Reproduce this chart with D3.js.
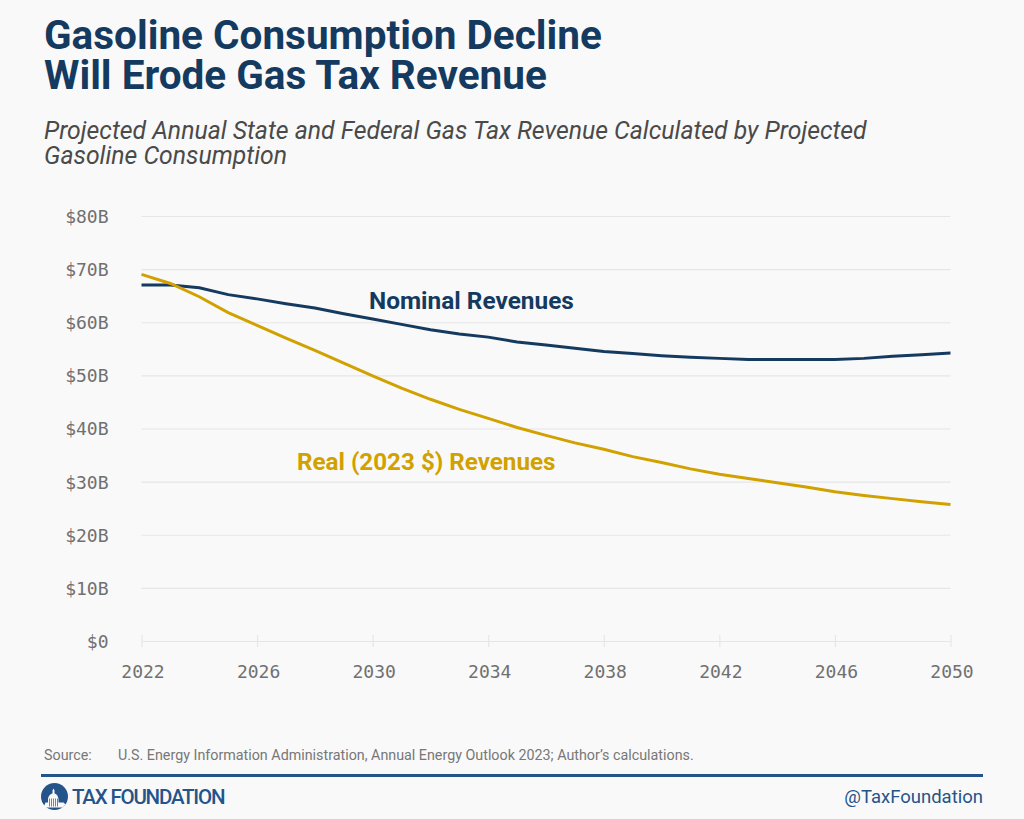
<!DOCTYPE html>
<html>
<head>
<meta charset="utf-8">
<script src="https://cdn.jsdelivr.net/npm/d3@7"></script>
<style>
html, body { margin: 0; padding: 0; background: #f9f9f9; }
svg { display: block; }
</style>
</head>
<body>
<div id="chart"></div>
<script>
const years = d3.range(2022, 2051)
const nominal = [67, 67, 66.5, 65.2, 64.4, 63.5, 62.7, 61.6, 60.6, 59.6, 58.6, 57.8, 57.2, 56.3, 55.7, 55.1, 54.5, 54.1, 53.7, 53.4, 53.2, 53, 53, 53, 53, 53.2, 53.6, 53.9, 54.2]
const real = [69, 67.3, 64.8, 61.8, 59.4, 57, 54.7, 52.3, 49.9, 47.6, 45.5, 43.6, 41.9, 40.2, 38.7, 37.3, 36.1, 34.7, 33.6, 32.4, 31.4, 30.6, 29.8, 29, 28.1, 27.4, 26.8, 26.2, 25.7]
const yTicks = [0, 10, 20, 30, 40, 50, 60, 70, 80]
const xTicks = [2022, 2026, 2030, 2034, 2038, 2042, 2046, 2050]
const titleLines = ['Gasoline Consumption Decline', 'Will Erode Gas Tax Revenue']
const subtitleLines = ['Projected Annual State and Federal Gas Tax Revenue Calculated by Projected', 'Gasoline Consumption']

const width = 1024
const height = 819
const navy = '#153a5f'
const gold = '#d1a100'
const gridColor = '#e6e6e6'
const tickColor = '#707070'
const monoFont = '"DejaVu Sans Mono", monospace'

const svg = d3.select('#chart').append('svg')
	.attr('width', width)
	.attr('height', height)
	.style('background', '#f9f9f9')
	.style('font-family', 'Roboto, sans-serif')

// scales
const x = d3.scaleLinear().domain([2022, 2050]).range([141.5, 950.5])
const y = d3.scaleLinear().domain([0, 80]).range([641, 216])

// title block
svg.append('g').selectAll('text').data(titleLines).enter().append('text')
	.attr('x', 44)
	.attr('y', (d, i) => 49 + i * 40)
	.attr('font-size', 40.5)
	.attr('font-weight', 700)
	.attr('fill', navy)
	.text(d => d)

svg.append('g').selectAll('text').data(subtitleLines).enter().append('text')
	.attr('x', 44)
	.attr('y', (d, i) => 139 + i * 25)
	.attr('font-size', 24.8)
	.attr('font-style', 'italic')
	.attr('fill', '#4a4a4a')
	.text(d => d)

// y axis with gridlines
const yAxis = svg.append('g')
	.attr('transform', 'translate(141.5,0)')
	.call(d3.axisLeft(y).tickValues(yTicks).tickSize(0).tickPadding(33)
		.tickFormat(d => d === 0 ? '$0' : '$' + d + 'B'))
yAxis.select('.domain').remove()
yAxis.selectAll('line').attr('x2', 809).attr('stroke', gridColor).attr('stroke-width', 1.2)
yAxis.selectAll('text')
	.attr('font-family', monoFont)
	.attr('font-size', 18)
	.attr('fill', tickColor)
	.attr('dy', '0.36em')

// x axis
const xAxis = svg.append('g')
	.attr('transform', 'translate(0,641)')
	.call(d3.axisBottom(x).tickValues(xTicks).tickSize(6).tickPadding(18).tickFormat(d3.format('d')))
xAxis.select('.domain').remove()
xAxis.selectAll('line').attr('y1', -6).attr('stroke', gridColor).attr('stroke-width', 1.2)
xAxis.selectAll('text')
	.attr('font-family', monoFont)
	.attr('font-size', 18)
	.attr('fill', tickColor)
	.attr('dx', 1)

// lines
const line = d3.line()
	.x((d, i) => x(years[i]))
	.y(d => y(d))

svg.append('path').datum(nominal)
	.attr('d', line)
	.attr('fill', 'none')
	.attr('stroke', navy)
	.attr('stroke-width', 3)

svg.append('path').datum(real)
	.attr('d', line)
	.attr('fill', 'none')
	.attr('stroke', gold)
	.attr('stroke-width', 3)

// series labels
svg.append('text')
	.attr('x', 369).attr('y', 309)
	.attr('font-size', 24.4).attr('font-weight', 700)
	.attr('fill', navy)
	.text('Nominal Revenues')

svg.append('text')
	.attr('x', 297).attr('y', 470)
	.attr('font-size', 24.2).attr('font-weight', 700)
	.attr('fill', gold)
	.text('Real (2023 $) Revenues')

// source
svg.append('text')
	.attr('x', 44).attr('y', 760)
	.attr('font-size', 14.3).attr('fill', '#777777')
	.text('Source:')
svg.append('text')
	.attr('x', 118).attr('y', 760)
	.attr('font-size', 14.3).attr('fill', '#777777')
	.text('U.S. Energy Information Administration, Annual Energy Outlook 2023; Author\u2019s calculations.')

// footer
svg.append('rect')
	.attr('x', 41).attr('y', 774)
	.attr('width', 942).attr('height', 3)
	.attr('fill', '#24548a')

// logo, a rough dome in a circle
const logo = svg.append('g').attr('transform', 'translate(54.5,796.5)')
logo.append('circle').attr('r', 13.5).attr('fill', '#24548a')
logo.append('path')
	.attr('d', 'M-11,11 L-9,6 H-6.5 V3 C-6.5,-1 -3,-3 -2,-3 L-2,-6 L-1,-8 L0,-6 L0,-3 C1,-3 4,-1 4,3 V6 H9 L11,8 L8,11 Z')
	.attr('fill', '#f9f9f9')
logo.append('g').selectAll('line').data([-5, -3, -1, 1, 3]).enter().append('line')
	.attr('x1', d => d).attr('x2', d => d)
	.attr('y1', 2).attr('y2', 10)
	.attr('stroke', '#24548a').attr('stroke-width', 0.7)

svg.append('text')
	.attr('x', 72).attr('y', 804)
	.attr('font-size', 20.5).attr('font-weight', 500)
	.attr('letter-spacing', -1.2)
	.attr('fill', '#24548a')
	.text('TAX FOUNDATION')

svg.append('text')
	.attr('x', 983).attr('y', 803)
	.attr('text-anchor', 'end')
	.attr('font-size', 18.5)
	.attr('fill', '#24548a')
	.text('@TaxFoundation')
</script>
</body>
</html>
